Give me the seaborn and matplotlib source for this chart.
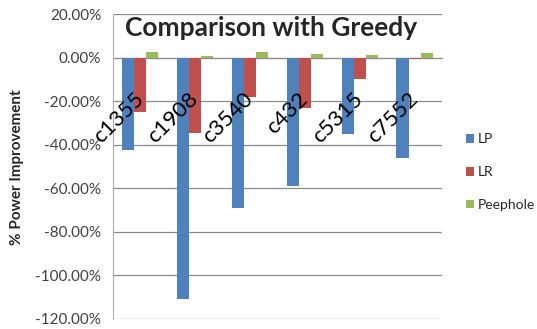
import matplotlib
matplotlib.use("Agg")
import matplotlib.pyplot as plt
import pandas as pd
import seaborn as sns
from matplotlib.ticker import FuncFormatter, MultipleLocator
from matplotlib.transforms import ScaledTranslation

circuits = ["c1355", "c1908", "c3540", "c432", "c5315", "c7552"]
lp = [-42.3, -111.0, -69.0, -59.0, -35.0, -46.0]
lr = [-24.8, -34.5, -18.0, -23.0, -9.6, -0.5]
peephole = [2.9, 1.0, 2.6, 1.9, 1.5, 2.5]
series_names = ["LP", "LR", "Peephole"]
palette = ["#4F81BD", "#C0504D", "#9BBB59"]

df = pd.DataFrame({
    "circuit": circuits * 3,
    "method": [s for s in series_names for _ in circuits],
    "value": lp + lr + peephole,
})

sns.set_style("white")
plt.rcParams["font.family"] = ["Lato", "DejaVu Sans"]

fig = plt.figure(figsize=(5.37, 3.29), dpi=100)
ax = fig.add_axes([0.2104, 0.0304, 0.6127, 0.9256])

sns.barplot(data=df, x="circuit", y="value", hue="method", palette=palette,
            order=circuits, hue_order=series_names, width=0.66,
            saturation=1, ax=ax, legend=True, edgecolor="none")

ax.set_ylim(-120, 20)
ax.set_xlim(-0.5, len(circuits) - 0.5)
ax.yaxis.set_major_locator(MultipleLocator(20))
ax.yaxis.set_major_formatter(FuncFormatter(lambda v, _: f"{v:.2f}%"))
ax.grid(axis="y", color="#8c8c8c", linewidth=0.9)
ax.set_axisbelow(True)

for side in ("top", "right"):
    ax.spines[side].set_visible(False)
ax.spines["left"].set_color("#b0b0b0")
ax.spines["bottom"].set_position(("data", 0))
ax.spines["bottom"].set_color("#8c8c8c")
ax.spines["bottom"].set_zorder(0.6)

# category ticks at the boundaries between groups, labels at the centres
ax.set_xticks([i - 0.5 for i in range(len(circuits) + 1)], minor=True)
ax.tick_params(axis="x", which="minor", length=4, color="#8c8c8c", direction="out")
ax.tick_params(axis="x", which="major", length=0, pad=22, labelsize=16,
               labelcolor="black")
ax.set_xticks(range(len(circuits)))
ax.set_xticklabels(circuits, rotation=45, ha="right", rotation_mode="anchor")
shift = ScaledTranslation(-0.07, 0, fig.dpi_scale_trans)
for lab in ax.get_xticklabels():
    lab.set_transform(lab.get_transform() + shift)
ax.xaxis.set_zorder(10)
ax.tick_params(axis="y", length=4, color="#8c8c8c", labelsize=11,
               labelcolor="#404040", pad=4.5)

ax.set_xlabel("")
ax.set_ylabel("% Power Improvement", fontsize=11, fontweight="bold",
              labelpad=8)

fig.text(0.505, 0.915, "Comparison with Greedy", ha="center", va="center",
         fontsize=19, fontweight="bold")

leg = ax.legend(loc="upper left", bbox_to_anchor=(1.055, 0.628), frameon=False,
                fontsize=10, handlelength=0.6, handleheight=0.6,
                labelspacing=1.5, handletextpad=0.25, borderaxespad=0)

fig.savefig("out.png", dpi=100)
